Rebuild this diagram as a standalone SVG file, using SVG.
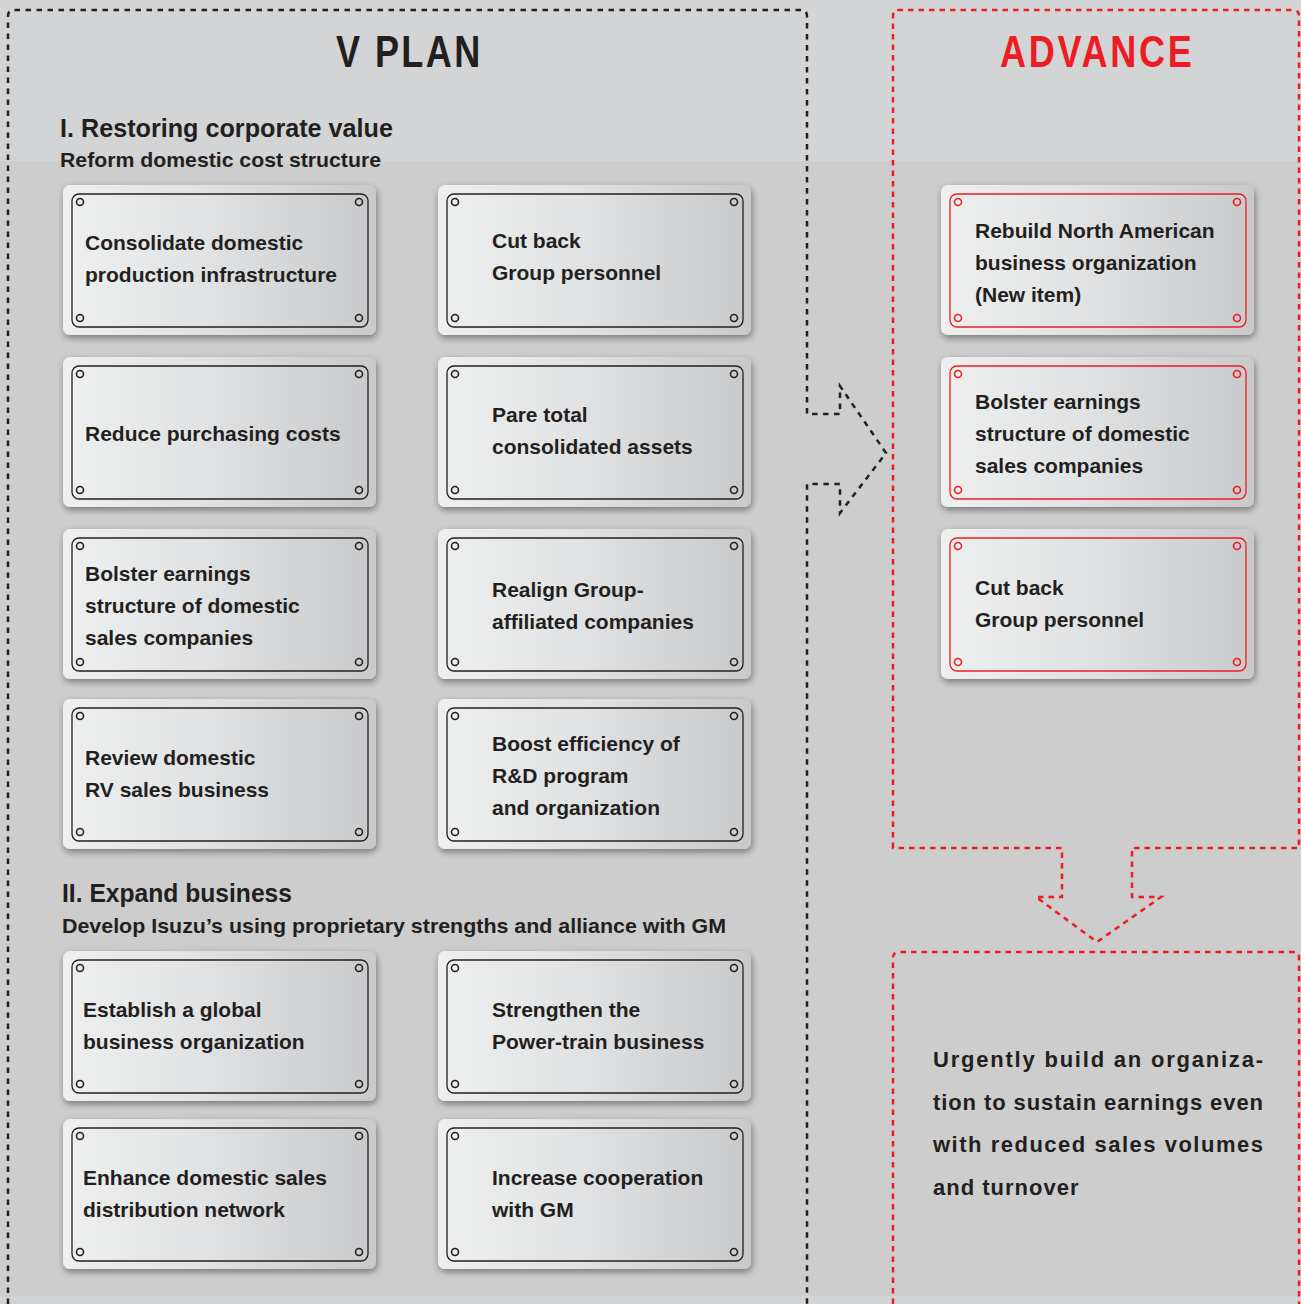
<svg xmlns="http://www.w3.org/2000/svg" width="1301" height="1304" viewBox="0 0 1301 1304">
<defs>
<linearGradient id="plateGrad" x1="0" y1="0" x2="1" y2="0">
<stop offset="0" stop-color="#eeefef"/>
<stop offset="0.45" stop-color="#e1e2e3"/>
<stop offset="1" stop-color="#c8c9cb"/>
</linearGradient>
<filter id="shadow" x="-10%" y="-10%" width="125%" height="130%">
<feDropShadow dx="1" dy="3" stdDeviation="3.5" flood-color="#000" flood-opacity="0.42"/>
</filter>
<style>
.plate{fill:url(#plateGrad);filter:url(#shadow);}
.inner{fill:none;stroke:#231f20;stroke-width:1.3;}
.hole{fill:none;stroke:#231f20;stroke-width:1.6;}
.adv .inner,.adv .hole{stroke:#ed1c24;}
.t{font-family:"Liberation Sans",Arial,sans-serif;font-weight:bold;font-size:21px;fill:#231f20;}
.h1{font-family:"Liberation Sans",Arial,sans-serif;font-weight:bold;font-size:25px;fill:#231f20;}
.h2{font-family:"Liberation Sans",Arial,sans-serif;font-weight:bold;font-size:21px;fill:#231f20;}
.title{font-family:"Liberation Sans",Arial,sans-serif;font-weight:bold;font-size:44px;}
.out{font-family:"Liberation Sans",Arial,sans-serif;font-weight:bold;font-size:22px;letter-spacing:1px;fill:#231f20;}
.blk{fill:none;stroke:#231f20;stroke-width:2.5;stroke-dasharray:5.5 5.5;}
.red{fill:none;stroke:#ed1c24;stroke-width:2.5;stroke-dasharray:5.5 5;}
</style>
<g id="card">
<rect class="plate" x="0" y="0" width="313" height="150" rx="7"/>
<rect class="inner" x="9" y="9" width="296" height="133" rx="7"/>
<circle class="hole" cx="17" cy="17" r="3.5"/>
<circle class="hole" cx="296" cy="17" r="3.5"/>
<circle class="hole" cx="17" cy="133" r="3.5"/>
<circle class="hole" cx="296" cy="133" r="3.5"/>
</g>
</defs>

<!-- background -->
<rect x="0" y="0" width="1301" height="1304" fill="#d3d4d6"/>
<rect x="0" y="161" width="1301" height="1135" fill="#cdcdcd"/>

<!-- frames and arrows -->
<g id="connectors">
<path class="blk" d="M8,1304 V16 Q8,10 14,10 H801 Q807,10 807,16 V414 H840 V386 L886,453 L840,513 V484 H807 V1304"/>
<path class="red" d="M893,848 V16 Q893,10 899,10 H1293 Q1299,10 1299,16 V848 H1132 V897 H1161 L1097,942 L1036,897 H1062 V848 Z"/>
<path class="red" d="M893,1304 V958 Q893,952 899,952 H1293 Q1299,952 1299,958 V1304"/>
</g>

<!-- titles -->
<g id="vplan-title" transform="translate(336,67) scale(0.82,1)">
<text class="title" x="0" y="0" fill="#231f20" textLength="176" lengthAdjust="spacing">V PLAN</text>
</g>
<g id="advance-title" transform="translate(1000,67) scale(0.82,1)">
<text class="title" x="0" y="0" fill="#ed1c24" textLength="234" lengthAdjust="spacing">ADVANCE</text>
</g>

<g id="section1-heading">
<text class="h1" x="60" y="137" textLength="333" lengthAdjust="spacingAndGlyphs">I. Restoring corporate value</text>
<text class="h2" x="60" y="167" textLength="321" lengthAdjust="spacingAndGlyphs">Reform domestic cost structure</text>
</g>
<g id="section2-heading">
<text class="h1" x="62" y="902" textLength="230" lengthAdjust="spacingAndGlyphs">II. Expand business</text>
<text class="h2" x="62" y="933" textLength="664" lengthAdjust="spacingAndGlyphs">Develop Isuzu’s using proprietary strengths and alliance with GM</text>
</g>

<!-- V PLAN cards -->
<g id="n-consolidate" transform="translate(63,185)">
<use href="#card"/>
<text class="t" x="22" y="65">Consolidate domestic</text>
<text class="t" x="22" y="97">production infrastructure</text>
</g>
<g id="n-cutback" transform="translate(438,185)">
<use href="#card"/>
<text class="t" x="54" y="63">Cut back</text>
<text class="t" x="54" y="95">Group personnel</text>
</g>
<g id="n-purchasing" transform="translate(63,357)">
<use href="#card"/>
<text class="t" x="22" y="84">Reduce purchasing costs</text>
</g>
<g id="n-assets" transform="translate(438,357)">
<use href="#card"/>
<text class="t" x="54" y="65">Pare total</text>
<text class="t" x="54" y="97">consolidated assets</text>
</g>
<g id="n-bolster" transform="translate(63,529)">
<use href="#card"/>
<text class="t" x="22" y="52">Bolster earnings</text>
<text class="t" x="22" y="84">structure of domestic</text>
<text class="t" x="22" y="116">sales companies</text>
</g>
<g id="n-realign" transform="translate(438,529)">
<use href="#card"/>
<text class="t" x="54" y="68">Realign Group-</text>
<text class="t" x="54" y="100">affiliated companies</text>
</g>
<g id="n-rv" transform="translate(63,699)">
<use href="#card"/>
<text class="t" x="22" y="66">Review domestic</text>
<text class="t" x="22" y="98">RV sales business</text>
</g>
<g id="n-rnd" transform="translate(438,699)">
<use href="#card"/>
<text class="t" x="54" y="52">Boost efficiency of</text>
<text class="t" x="54" y="84">R&amp;D program</text>
<text class="t" x="54" y="116">and organization</text>
</g>
<g id="n-global" transform="translate(63,951)">
<use href="#card"/>
<text class="t" x="20" y="66">Establish a global</text>
<text class="t" x="20" y="98">business organization</text>
</g>
<g id="n-powertrain" transform="translate(438,951)">
<use href="#card"/>
<text class="t" x="54" y="66">Strengthen the</text>
<text class="t" x="54" y="98">Power-train business</text>
</g>
<g id="n-distribution" transform="translate(63,1119)">
<use href="#card"/>
<text class="t" x="20" y="66">Enhance domestic sales</text>
<text class="t" x="20" y="98">distribution network</text>
</g>
<g id="n-gm" transform="translate(438,1119)">
<use href="#card"/>
<text class="t" x="54" y="66">Increase cooperation</text>
<text class="t" x="54" y="98">with GM</text>
</g>

<!-- ADVANCE cards -->
<g id="a-northamerica" class="adv" transform="translate(941,185)">
<rect class="plate" x="0" y="0" width="313" height="150" rx="7"/>
<rect class="inner" x="9" y="9" width="296" height="133" rx="7"/>
<circle class="hole" cx="17" cy="17" r="3.5"/><circle class="hole" cx="296" cy="17" r="3.5"/>
<circle class="hole" cx="17" cy="133" r="3.5"/><circle class="hole" cx="296" cy="133" r="3.5"/>
<text class="t" x="34" y="53">Rebuild North American</text>
<text class="t" x="34" y="85">business organization</text>
<text class="t" x="34" y="117">(New item)</text>
</g>
<g id="a-bolster" class="adv" transform="translate(941,357)">
<rect class="plate" x="0" y="0" width="313" height="150" rx="7"/>
<rect class="inner" x="9" y="9" width="296" height="133" rx="7"/>
<circle class="hole" cx="17" cy="17" r="3.5"/><circle class="hole" cx="296" cy="17" r="3.5"/>
<circle class="hole" cx="17" cy="133" r="3.5"/><circle class="hole" cx="296" cy="133" r="3.5"/>
<text class="t" x="34" y="52">Bolster earnings</text>
<text class="t" x="34" y="84">structure of domestic</text>
<text class="t" x="34" y="116">sales companies</text>
</g>
<g id="a-cutback" class="adv" transform="translate(941,529)">
<rect class="plate" x="0" y="0" width="313" height="150" rx="7"/>
<rect class="inner" x="9" y="9" width="296" height="133" rx="7"/>
<circle class="hole" cx="17" cy="17" r="3.5"/><circle class="hole" cx="296" cy="17" r="3.5"/>
<circle class="hole" cx="17" cy="133" r="3.5"/><circle class="hole" cx="296" cy="133" r="3.5"/>
<text class="t" x="34" y="66">Cut back</text>
<text class="t" x="34" y="98">Group personnel</text>
</g>

<!-- outcome -->
<g id="outcome">
<text class="out" x="933" y="1067" textLength="331">Urgently build an organiza-</text>
<text class="out" x="933" y="1110" textLength="331">tion to sustain earnings even</text>
<text class="out" x="933" y="1152" textLength="331">with reduced sales volumes</text>
<text class="out" x="933" y="1195">and turnover</text>
</g>
</svg>
